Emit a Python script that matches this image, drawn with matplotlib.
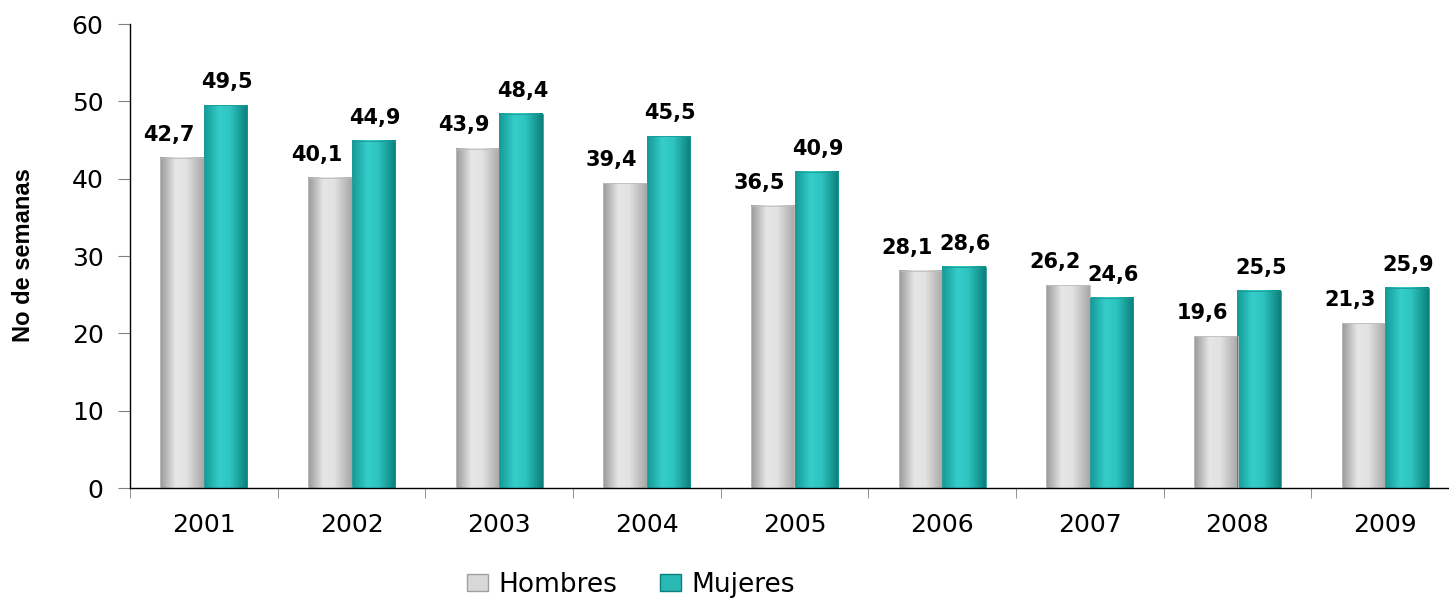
import numpy as np
import matplotlib
matplotlib.use("Agg")
import matplotlib.pyplot as plt
from matplotlib.colors import LinearSegmentedColormap
from matplotlib.patches import Patch, Rectangle

years = ["2001", "2002", "2003", "2004", "2005", "2006", "2007", "2008", "2009"]
hombres = [42.7, 40.1, 43.9, 39.4, 36.5, 28.1, 26.2, 19.6, 21.3]
mujeres = [49.5, 44.9, 48.4, 45.5, 40.9, 28.6, 24.6, 25.5, 25.9]
series_names = ["Hombres", "Mujeres"]
yticks = [0, 10, 20, 30, 40, 50, 60]

plt.rcParams['font.family'] = ['DejaVu Sans']

W, H = 1449, 601
fig = plt.figure(figsize=(W / 100, H / 100), dpi=100)
# axes in pixel coords: left 130, right 1459 (beyond edge), bottom 488, top 24
ax = fig.add_axes([130 / W, 1 - 488 / H, (1459 - 130) / W, (488 - 24) / H])

gray_cmap = LinearSegmentedColormap.from_list(
    "g", [(0, "#9a9a9a"), (0.35, "#e6e6e6"), (0.6, "#e2e2e2"), (1.0, "#a8a8a8")])
teal_cmap = LinearSegmentedColormap.from_list(
    "t", [(0, "#159a96"), (0.35, "#35cdca"), (0.6, "#2ec4c0"), (1.0, "#0a7f7b")])

x = np.arange(len(years))
bw = 0.295
grad = np.linspace(0, 1, 64).reshape(1, -1)

def draw_bar(xc, h, cmap, edge):
    l = xc - bw / 2
    ax.imshow(grad, extent=[l, l + bw, 0, h], cmap=cmap, aspect='auto',
              interpolation='bilinear', zorder=2)
    ax.add_patch(Rectangle((l, 0), bw, h, fill=False, edgecolor=edge,
                           linewidth=0.6, zorder=3))

for i in range(len(years)):
    xh = x[i] - bw / 2
    xm = x[i] + bw / 2
    draw_bar(xh, hombres[i], gray_cmap, "#bdbdbd")
    draw_bar(xm, mujeres[i], teal_cmap, "#1a9a96")
    ax.text(xh - 0.09, hombres[i] + 2.2, f"{hombres[i]:.1f}".replace(".", ","),
            ha='center', va='baseline', fontsize=15, fontweight='bold', color='black')
    ax.text(xm + 0.01, mujeres[i] + 2.2, f"{mujeres[i]:.1f}".replace(".", ","),
            ha='center', va='baseline', fontsize=15, fontweight='bold', color='black')

ax.set_xlim(-0.5, len(years) - 0.5)
ax.set_ylim(0, 60)
ax.set_yticks(yticks)
ax.set_yticklabels([str(t) for t in yticks], fontsize=18)
ax.set_xticks(x)
ax.set_xticklabels(years, fontsize=18)
ax.set_xticks(np.arange(len(years) + 1) - 0.5, minor=True)
ax.tick_params(axis='x', which='major', length=0, pad=18)
ax.tick_params(axis='x', which='minor', length=7, color='#808080', direction='out')
ax.tick_params(axis='y', length=9, color='#808080', pad=10)

for s in ['top', 'right']:
    ax.spines[s].set_visible(False)
ax.spines['left'].set_color('black')
ax.spines['bottom'].set_color('black')
ax.spines['left'].set_linewidth(1.0)
ax.spines['bottom'].set_linewidth(1.0)

fig.text(24 / W, 1 - 255 / H, "No de semanas", rotation=90, ha='center', va='center',
         fontsize=17, fontweight='bold', family=['Liberation Sans'])

handles = [Patch(facecolor="#d8d8d8", edgecolor="#a0a0a0", label=series_names[0]),
           Patch(facecolor="#2ab8b4", edgecolor="#0a7f7b", label=series_names[1])]
fig.legend(handles=handles, loc='center', bbox_to_anchor=(631 / W, 1 - 585 / H),
           ncol=2, frameon=False, fontsize=19, handlelength=0.8, handleheight=0.6,
           handletextpad=0.4, columnspacing=1.6, borderpad=0)

fig.savefig("out.png", dpi=100)
